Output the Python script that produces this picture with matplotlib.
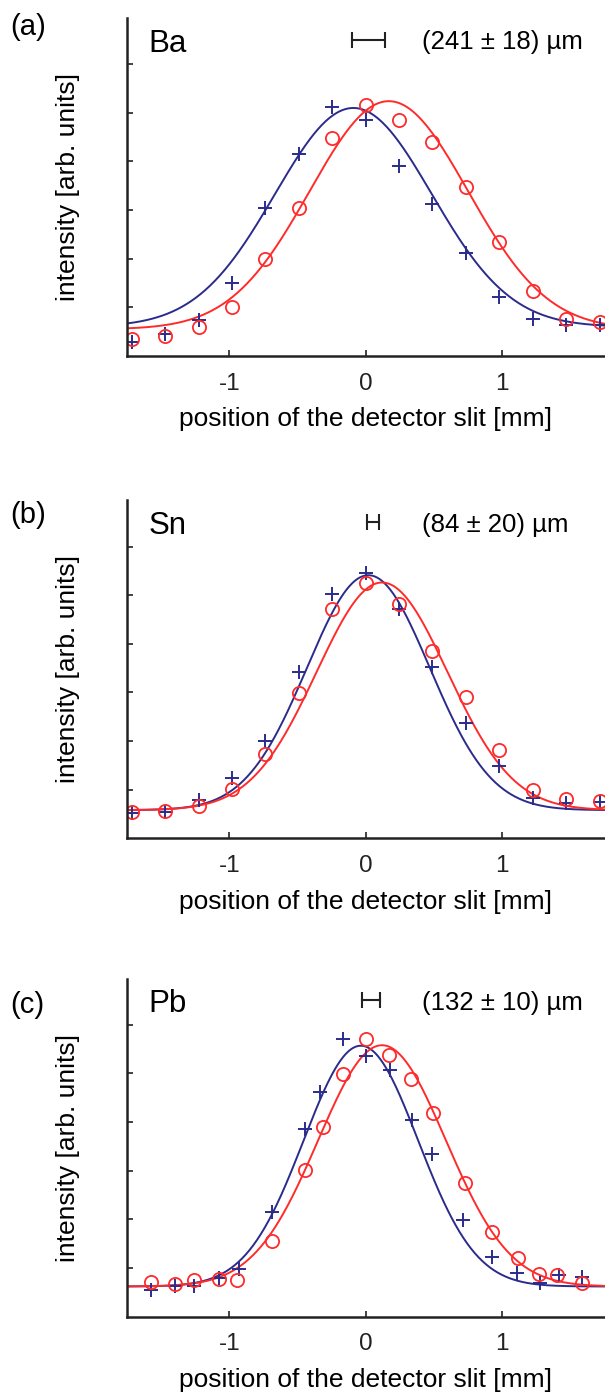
import numpy as np
import matplotlib.pyplot as plt

plt.rcParams['font.family'] = ['Liberation Sans', 'DejaVu Sans']

# Messpunkte (Position in mm, Intensitaet in willk. Einheiten)
x_ab = [-1.715, -1.47, -1.225, -0.98, -0.735, -0.49, -0.245, 0.0,
        0.245, 0.49, 0.735, 0.98, 1.225, 1.47, 1.715]

ba_blue = [0.29, 0.45, 0.74, 1.51, 3.05, 4.16, 5.12, 4.85, 3.90, 3.12, 2.11, 1.22, 0.77, 0.64, 0.64]
ba_red = [0.36, 0.42, 0.60, 1.01, 1.99, 3.05, 4.49, 5.17, 4.85, 4.39, 3.48, 2.35, 1.34, 0.77, 0.70]

sn_blue = [0.52, 0.55, 0.79, 1.24, 2.01, 3.42, 5.02, 5.46, 4.71, 3.53, 2.37, 1.48, 0.82, 0.72, 0.75]
sn_red = [0.54, 0.57, 0.67, 1.01, 1.74, 2.98, 4.71, 5.24, 4.81, 3.86, 2.90, 1.82, 1.00, 0.80, 0.77]

pb_x_blue = [-1.577, -1.399, -1.257, -1.076, -0.927, -0.686, -0.446, -0.333, -0.169, 0.006,
             0.176, 0.339, 0.486, 0.713, 0.925, 1.108, 1.278, 1.419, 1.589]
pb_blue = [0.55, 0.63, 0.62, 0.79, 0.98, 2.16, 3.86, 4.62, 5.71, 5.35,
           5.08, 4.05, 3.34, 1.99, 1.22, 0.89, 0.69, 0.86, 0.81]
pb_x_red = [-1.571, -1.399, -1.257, -1.076, -0.941, -0.686, -0.446, -0.311, -0.163, 0.006,
            0.170, 0.331, 0.492, 0.727, 0.925, 1.114, 1.272, 1.405, 1.589]
pb_red = [0.72, 0.67, 0.76, 0.78, 0.76, 1.56, 3.02, 3.89, 4.99, 5.71,
          5.38, 4.88, 4.18, 2.74, 1.74, 1.20, 0.87, 0.86, 0.69]

# Gauss-Fitparameter (Amplitude, Zentrum, Sigma, Untergrund)
fit_ba_blue = (4.50, -0.09, 0.575, 0.60)
fit_ba_red = (4.69, 0.17, 0.58, 0.55)
fit_sn_blue = (4.83, 0.02, 0.45, 0.58)
fit_sn_red = (4.68, 0.12, 0.48, 0.58)
fit_pb_blue = (4.95, -0.035, 0.42, 0.62)
fit_pb_red = (4.96, 0.12, 0.468, 0.62)

# Verschiebung in um und Lage des Balkens
shift_um = [241, 84, 132]
shift_err = [18, 20, 10]
bar_center = [0.02, 0.055, 0.037]
elements = ['Ba', 'Sn', 'Pb']
letters = ['(a)', '(b)', '(c)']

blue = '#2b2b8c'
red = '#ff2b2b'
dark = '#222222'


def gauss(x, a, x0, s, b):
    return a * np.exp(-(x - x0) ** 2 / (2 * s ** 2)) + b


fig = plt.figure(figsize=(6.05, 13.94), dpi=100)

panels = [
    (x_ab, ba_blue, x_ab, ba_red, fit_ba_blue, fit_ba_red, 0.7446),
    (x_ab, sn_blue, x_ab, sn_red, fit_sn_blue, fit_sn_red, 0.3986),
    (pb_x_blue, pb_blue, pb_x_red, pb_red, fit_pb_blue, fit_pb_red, 0.0555),
]
letter_y = [0.9803, 0.6306, 0.279]

xfit = np.linspace(-1.75, 1.755, 500)

for i, (xb, yb, xr, yr, pbl, prd, bottom) in enumerate(panels):
    ax = fig.add_axes([0.2099, bottom, 0.7901, 0.2425])
    ax.plot(xfit, gauss(xfit, *pbl), color=blue, lw=1.4)
    ax.plot(xfit, gauss(xfit, *prd), color=red, lw=1.4)
    ax.plot(xb, yb, '+', color=blue, ms=10.5, mew=1.4)
    ax.plot(xr, yr, 'o', mfc='none', mec=red, ms=9.5, mew=1.3)

    ax.set_xlim(-1.75, 1.755)
    ax.set_ylim(0, 6.95)
    ax.set_xticks([-1, 0, 1])
    ax.set_xticklabels(['-1', '0', '1'])
    ax.set_yticks([1, 2, 3, 4, 5, 6])
    ax.set_yticklabels([])
    ax.tick_params(direction='in', length=4, width=1.2, colors=dark,
                   labelsize=17.5, pad=12)
    for side in ['top', 'right']:
        ax.spines[side].set_visible(False)
    for side in ['left', 'bottom']:
        ax.spines[side].set_linewidth(1.8)
        ax.spines[side].set_color(dark)
    ax.set_xlabel('position of the detector slit [mm]', fontsize=19, labelpad=9)
    ax.set_ylabel('intensity [arb. units]', fontsize=19, labelpad=22)

    # Element, Balken und Verschiebung
    ax.text(-1.59, 6.42, elements[i], fontsize=22.5, va='center', ha='left')
    half = shift_um[i] / 1000 / 2
    ax.plot([bar_center[i] - half, bar_center[i] + half], [6.5, 6.5], color=dark,
            lw=1.5, marker='|', ms=11, mew=1.5)
    ax.text(0.41, 6.45, f'({shift_um[i]} \u00b1 {shift_err[i]}) \u00b5m',
            fontsize=18.5, va='center', ha='left')

    fig.text(0.017, letter_y[i], letters[i], fontsize=21, va='center', ha='left')

plt.savefig('out.png', dpi=100)
